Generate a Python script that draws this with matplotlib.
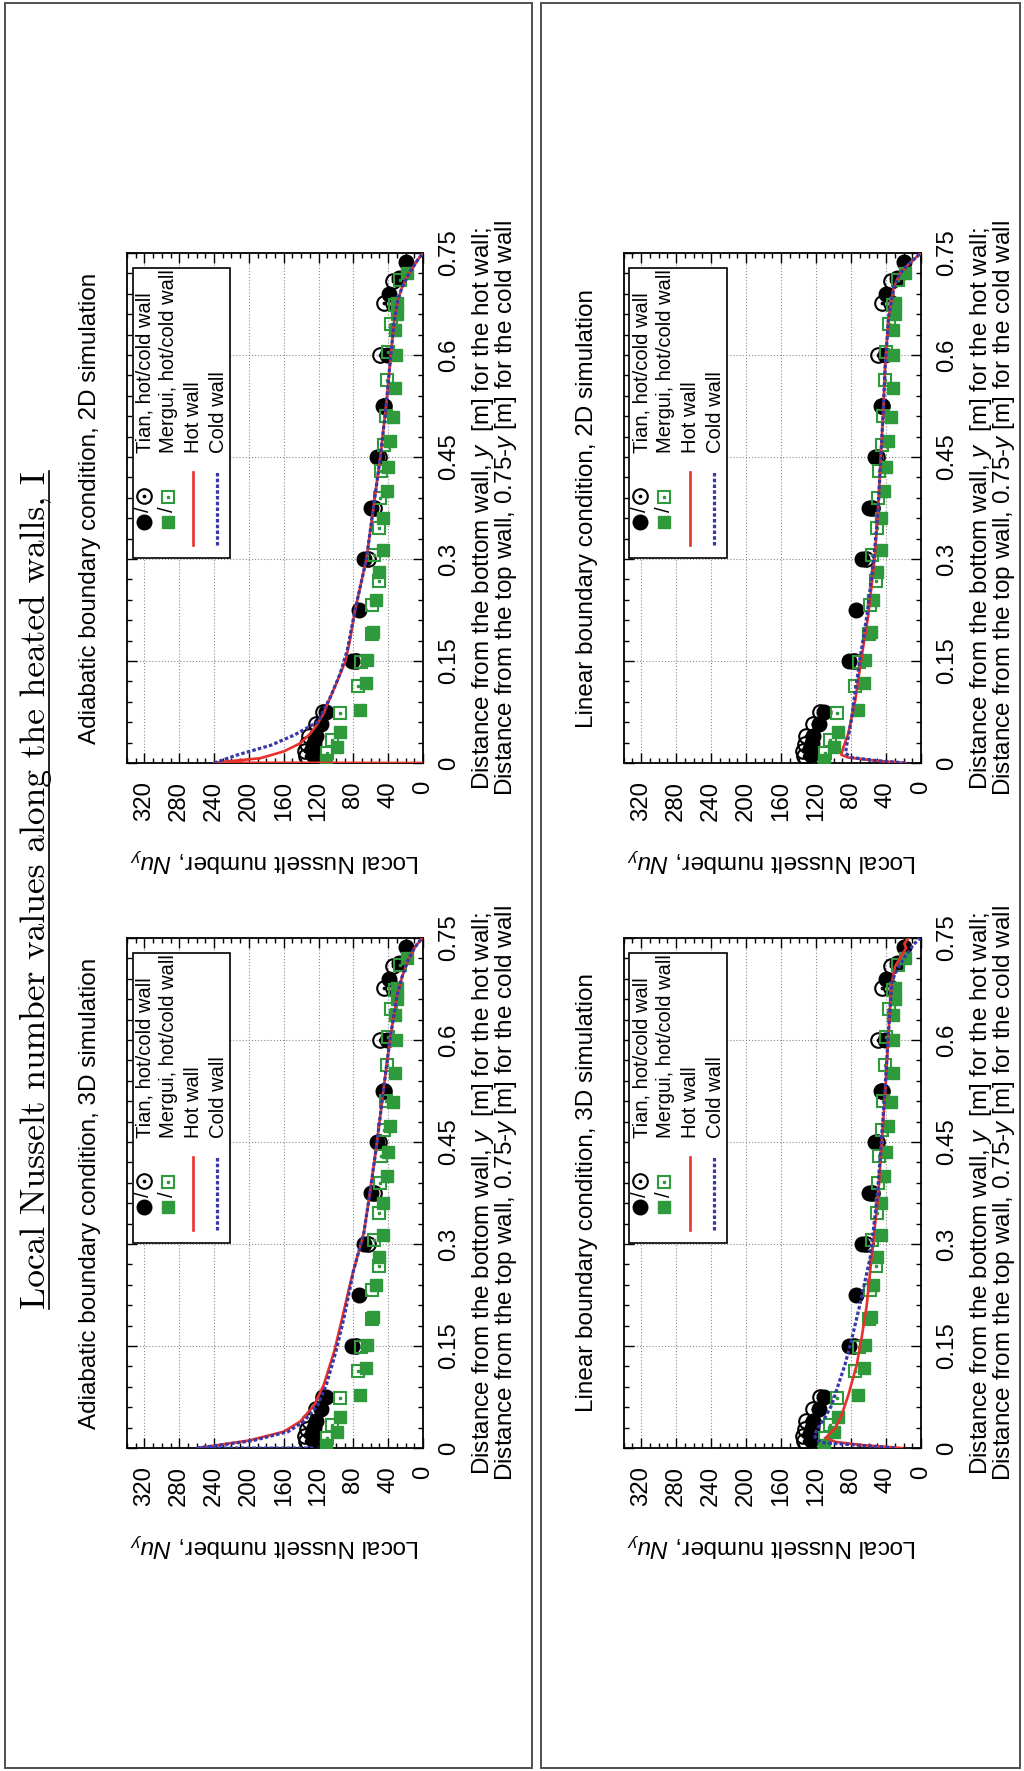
import matplotlib
matplotlib.use("Agg")
import matplotlib.pyplot as plt
from matplotlib.lines import Line2D
from matplotlib.patches import Rectangle
from matplotlib.ticker import MultipleLocator

plt.rcParams['font.family'] = ['Liberation Sans', 'DejaVu Sans']
plt.rcParams['mathtext.fontset'] = 'custom'
plt.rcParams['mathtext.rm'] = 'Liberation Sans'
plt.rcParams['mathtext.it'] = 'Liberation Sans:italic'

# ---------------- data ----------------
figure_title = "Local Nusselt number values along the heated walls, I"
nu_ticks = [0, 40, 80, 120, 160, 200, 240, 280, 320]
nu_tick_labels = ["0", "40", "80", "120", "160", "200", "240", "280", "320"]
dist_ticks = [0, 0.15, 0.3, 0.45, 0.6, 0.75]
dist_tick_labels = ["0", "0.15", "0.3", "0.45", "0.6", "0.75"]
legend_labels = ["Tian, hot/cold wall", "Mergui, hot/cold wall", "Hot wall", "Cold wall"]
nu_label = "Local Nusselt number, $Nu_y$"
dist_label_1 = "Distance from the bottom wall, $y$  [m] for the hot wall;"
dist_label_2 = "Distance from the top wall, 0.75-$y$ [m] for the cold wall"

# experimental / benchmark data (same in every panel)
tian_hot_d = [0.012, 0.020, 0.030, 0.040, 0.057, 0.075, 0.150, 0.225, 0.300, 0.375,
              0.450, 0.525, 0.600, 0.690, 0.713, 0.737]
tian_hot_nu = [126, 127, 125, 123, 117, 111, 82, 74, 68, 60, 53, 46, 41, 39.5, 28, 20]
tian_cold_d = [0.010, 0.018, 0.028, 0.040, 0.057, 0.075, 0.150, 0.300, 0.375, 0.450,
               0.525, 0.600, 0.676, 0.676, 0.709]
tian_cold_nu = [134, 135, 133, 131, 123, 115, 77, 63, 56, 50, 45, 49, 45, 34.5, 34]
mergui_hot_d = [0.005, 0.024, 0.045, 0.078, 0.117, 0.151, 0.193, 0.240, 0.281, 0.313,
                0.360, 0.400, 0.436, 0.473, 0.509, 0.552, 0.600, 0.637, 0.661, 0.676, 0.720]
mergui_hot_nu = [111, 99, 95, 72.5, 65.5, 64.5, 57, 54.5, 50.5, 45.5, 45.5, 41.8, 40,
                 37.6, 34.6, 32.5, 31.5, 32, 30, 30, 18]
mergui_cold_d = [0.014, 0.034, 0.073, 0.113, 0.149, 0.190, 0.232, 0.268, 0.306, 0.345,
                 0.390, 0.430, 0.468, 0.510, 0.563, 0.605, 0.645, 0.673, 0.710]
mergui_cold_nu = [110, 104, 95.5, 75, 71, 59, 58.5, 51, 56, 50, 49, 48, 45, 43, 41.5,
                  40, 37, 32, 26]

# simulations
adi2d_title = "Adiabatic boundary condition, 2D simulation"
adi2d_hot_d = [0.0, 0.0005, 0.007, 0.017, 0.029, 0.044, 0.056, 0.073, 0.098, 0.125, 0.15,
               0.18, 0.225, 0.30, 0.375, 0.45, 0.53, 0.60, 0.65, 0.68, 0.70, 0.72, 0.74, 0.75]
adi2d_hot_nu = [0, 240, 187, 160, 141, 129, 122, 114, 106, 97, 89, 84, 78, 65, 57, 49, 42,
                37, 33, 29, 24, 16, 6, 0]
adi2d_cold_d = [0.0, 0.012, 0.026, 0.041, 0.061, 0.078, 0.098, 0.132, 0.166, 0.225, 0.30,
                0.375, 0.45, 0.53, 0.60, 0.65, 0.68, 0.70, 0.72, 0.74, 0.75]
adi2d_cold_nu = [240, 213, 175, 148, 120, 114, 106, 95, 87, 78, 65, 57, 49, 42, 37, 33, 29,
                 24, 16, 6, 0]

adi3d_title = "Adiabatic boundary condition, 3D simulation"
adi3d_hot_d = [0.0, 0.0035, 0.011, 0.024, 0.039, 0.063, 0.093, 0.142, 0.19, 0.24, 0.26,
               0.316, 0.375, 0.448, 0.531, 0.60, 0.664, 0.693, 0.718, 0.737, 0.75]
adi3d_hot_nu = [259, 240, 200, 160, 141, 125, 114, 102, 93, 84, 80, 68, 61, 53, 45, 38,
                30, 24, 17, 9, 1]
adi3d_cold_d = [0.0, 0.0, 0.0035, 0.011, 0.024, 0.039, 0.063, 0.093, 0.142, 0.19, 0.24,
                0.26, 0.316, 0.375, 0.448, 0.531, 0.60, 0.664, 0.693, 0.718, 0.737, 0.75]
adi3d_cold_nu = [126, 259, 237, 195, 155, 137, 121, 111, 100, 91, 83, 80, 68, 61, 53, 45,
                 38, 30, 24, 17, 9, 1]

lin2d_title = "Linear boundary condition, 2D simulation"
lin2d_hot_d = [0.0, 0.0034, 0.008, 0.012, 0.022, 0.044, 0.093, 0.151, 0.215, 0.30, 0.372,
               0.45, 0.52, 0.583, 0.656, 0.70, 0.72, 0.735, 0.75]
lin2d_hot_nu = [18, 52, 83, 91, 89, 83, 75, 68.5, 60.5, 53, 49, 46, 43, 41, 37, 31, 24,
                13, 0]
lin2d_cold_d = [0.0, 0.0034, 0.008, 0.014, 0.022, 0.039, 0.06, 0.093, 0.151, 0.215, 0.30,
                0.372, 0.45, 0.52, 0.583, 0.656, 0.70, 0.72, 0.735, 0.75]
lin2d_cold_nu = [18, 50, 79, 86, 85.5, 83, 80, 76.5, 70, 62, 54, 49, 46, 43, 41, 37, 31,
                 24, 13, 0]

lin3d_title = "Linear boundary condition, 3D simulation"
lin3d_hot_d = [0.0, 0.0044, 0.009, 0.015, 0.029, 0.0485, 0.078, 0.122, 0.161, 0.21, 0.281,
               0.37, 0.448, 0.52, 0.605, 0.683, 0.708, 0.725, 0.735, 0.742, 0.75]
lin3d_hot_nu = [22, 68, 98, 109, 98, 90.7, 83, 73.5, 68, 62, 56.4, 49, 45, 41, 37.3, 33.5,
                29.7, 22, 17, 19, 14]
lin3d_cold_d = [0.0, 0.0044, 0.008, 0.012, 0.019, 0.031, 0.044, 0.063, 0.093, 0.122, 0.161,
                0.21, 0.281, 0.37, 0.448, 0.52, 0.605, 0.683, 0.698, 0.7225, 0.74, 0.75]
lin3d_cold_nu = [30, 75, 113.5, 119, 122, 117, 110, 102, 94.5, 87, 79, 70, 58, 50, 45.5,
                 41.5, 37.5, 33.5, 29.7, 18.3, 8.8, 1]

# ---------------- style / layout ----------------
W, H, DPI = 1024, 1771, 100
GREEN = '#2e9a3c'
RED = '#e8312b'
BLUE = '#3838a8'
FS = 17.5
TICK_FS = 17.3
LEG_FS = 14.5

fig = plt.figure(figsize=(W / DPI, H / DPI), dpi=DPI)


def px_rect(l, t, r, b):
    return [l / W, 1 - b / H, (r - l) / W, (b - t) / H]


panels = [
    (adi2d_title, adi2d_hot_d, adi2d_hot_nu, adi2d_cold_d, adi2d_cold_nu, (127, 253, 423, 763)),
    (adi3d_title, adi3d_hot_d, adi3d_hot_nu, adi3d_cold_d, adi3d_cold_nu, (127, 938, 423, 1448)),
    (lin2d_title, lin2d_hot_d, lin2d_hot_nu, lin2d_cold_d, lin2d_cold_nu, (623.5, 253, 921, 763)),
    (lin3d_title, lin3d_hot_d, lin3d_hot_nu, lin3d_cold_d, lin3d_cold_nu, (623.5, 938, 921, 1448)),
]

MS_C = 10.5
MS_S = 8.5
MEW = 1.5
LW_HOT = 1.9
LW_COLD = 2.3
DASH = (1.1, 0.7)

for title, hd, hn, cd, cn, (l, t, r, b) in panels:
    ax = fig.add_axes(px_rect(l, t, r, b))
    wpx = r - l
    hpx = b - t
    ax.set_xlim(340, 0)
    ax.set_ylim(0, 0.75)
    ax.set_xticks(nu_ticks)
    ax.set_xticklabels(nu_tick_labels)
    ax.xaxis.set_minor_locator(MultipleLocator(10))
    ax.set_yticks(dist_ticks)
    ax.set_yticklabels(dist_tick_labels)
    ax.yaxis.set_minor_locator(MultipleLocator(0.03))
    ax.tick_params(which='both', direction='in', top=True, bottom=True, left=True,
                   right=True, labelleft=False, labelright=True, labelbottom=True,
                   color='black', width=1.0)
    ax.tick_params(which='major', length=7)
    ax.tick_params(which='minor', length=3.5)
    ax.tick_params(axis='x', labelrotation=90, labelsize=TICK_FS, pad=13)
    ax.tick_params(axis='y', labelrotation=90, labelsize=TICK_FS, pad=11)
    for lab in ax.get_yticklabels():
        lab.set_verticalalignment('center')
    ax.set_axisbelow(True)
    ax.grid(True, which='major', linestyle=(0, (1, 1.8)), color='#8a8a8a', linewidth=0.8)
    for s in ax.spines.values():
        s.set_linewidth(1.3)

    # markers
    ax.plot(tian_cold_nu, tian_cold_d, 'o', ms=MS_C, mfc='none', mec='black', mew=MEW, zorder=3)
    ax.plot(tian_cold_nu, tian_cold_d, 'o', ms=1.7, color='black', zorder=3)
    ax.plot(tian_hot_nu, tian_hot_d, 'o', ms=MS_C, color='black', zorder=3)
    ax.plot(mergui_cold_nu, mergui_cold_d, 's', ms=MS_S, mfc='none', mec=GREEN, mew=MEW, zorder=3)
    ax.plot(mergui_cold_nu, mergui_cold_d, 's', ms=1.5, color=GREEN, zorder=3)
    ax.plot(mergui_hot_nu, mergui_hot_d, 's', ms=MS_S, color=GREEN, zorder=3)
    # lines
    ax.plot(hn, hd, '-', color=RED, lw=LW_HOT, zorder=4)
    ax.plot(cn, cd, color=BLUE, lw=LW_COLD, dashes=DASH, zorder=5)

    # legend (drawn rotated)
    tr = ax.transAxes
    ax.add_patch(Rectangle((0.02, 0.401), 0.328, 0.570, transform=tr, fc='white',
                           ec='black', lw=1.2, zorder=6))
    ax.plot([0.057], [0.472], 'o', ms=MS_C, color='black', transform=tr, zorder=7)
    ax.text(0.057, 0.497, "/", rotation=90, ha='center', va='center', transform=tr,
            fontsize=LEG_FS, zorder=7)
    ax.plot([0.057], [0.524], 'o', ms=MS_C, mfc='none', mec='black', mew=MEW, transform=tr, zorder=7)
    ax.plot([0.057], [0.524], 'o', ms=1.7, color='black', transform=tr, zorder=7)
    ax.plot([0.137], [0.472], 's', ms=MS_S, color=GREEN, transform=tr, zorder=7)
    ax.text(0.137, 0.497, "/", rotation=90, ha='center', va='center', transform=tr,
            fontsize=LEG_FS, zorder=7)
    ax.plot([0.137], [0.522], 's', ms=MS_S, mfc='none', mec=GREEN, mew=MEW, transform=tr, zorder=7)
    ax.plot([0.137], [0.522], 's', ms=1.5, color=GREEN, transform=tr, zorder=7)
    ax.add_line(Line2D([0.222, 0.222], [0.427, 0.571], color=RED, lw=LW_HOT, transform=tr, zorder=7))
    ax.add_line(Line2D([0.305, 0.305], [0.427, 0.571], color=BLUE, lw=LW_COLD, dashes=DASH,
                       transform=tr, zorder=7))
    for xf, lab in zip([0.061, 0.140, 0.225, 0.309], legend_labels):
        ax.text(xf, 0.608, lab, rotation=90, rotation_mode='anchor', ha='left', va='center',
                transform=tr, fontsize=LEG_FS, zorder=7)

    # titles and labels
    ax.text(-37 / wpx, 0.5, title, rotation=90, ha='center', va='center', transform=tr,
            fontsize=FS)
    ax.text(0.5, -(97 / hpx), nu_label, rotation=180, ha='center', va='center', transform=tr,
            fontsize=FS)
    ax.text(1 + 60 / wpx, 0.5, dist_label_1, rotation=90, ha='center', va='center',
            transform=tr, fontsize=FS)
    ax.text(1 + 83 / wpx, 0.5, dist_label_2, rotation=90, ha='center', va='center',
            transform=tr, fontsize=FS)

# figure title with underline
ttl = fig.text(45 / W, 1 - 890 / H, figure_title, rotation=90, rotation_mode='anchor',
               ha='center', va='baseline', fontsize=25.5, family='cmr10')
renderer = fig.canvas.get_renderer()
bb = ttl.get_window_extent(renderer=renderer)
fig.add_artist(Line2D([48.5 / W, 48.5 / W], [bb.y0 / H, bb.y1 / H], transform=fig.transFigure,
                      color='black', lw=1.2))

# page frames
fig.add_artist(Rectangle((5 / W, 1 - 1768 / H), (532 - 5) / W, (1768 - 3) / H,
                         transform=fig.transFigure, fill=False, ec='#505050', lw=1.4))
fig.add_artist(Rectangle((541 / W, 1 - 1768 / H), (1020 - 541) / W, (1768 - 3) / H,
                         transform=fig.transFigure, fill=False, ec='#505050', lw=1.4))

fig.savefig("out.png", dpi=DPI)
